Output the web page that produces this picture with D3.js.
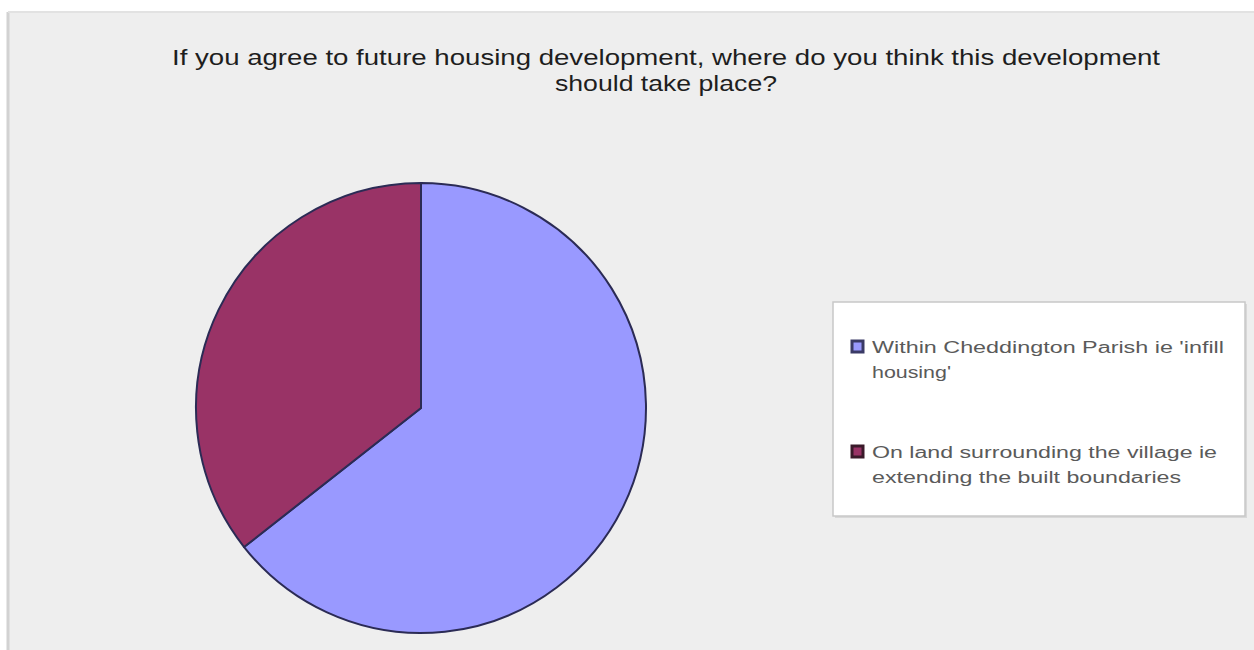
<!DOCTYPE html>
<html>
<head>
<meta charset="utf-8">
<script src="https://cdn.jsdelivr.net/npm/d3@7"></script>
<style>
  html, body { margin: 0; padding: 0; background: #ffffff; }
  svg { display: block; }
</style>
</head>
<body>
<svg id="chart" width="1254" height="650"></svg>
<script>
// Survey responses (share of respondents, %)
const categories = [
  "Within Cheddington Parish ie 'infill housing'",
  "On land surrounding the village ie extending the built boundaries"
];
const values = [64.4, 35.6];
// Legend text broken into lines as drawn
const legendLines = [
  ["Within Cheddington Parish ie 'infill", "housing'"],
  ["On land surrounding the village ie", "extending the built boundaries"]
];
const titleLines = [
  "If you agree to future housing development, where do you think this development",
  "should take place?"
];
const colors = ["#9999ff", "#993366"];

const svg = d3.select("#chart");
const W = 1254, H = 650;

// chart area
svg.append("rect").attr("x", 0).attr("y", 0).attr("width", W).attr("height", H).attr("fill", "#ffffff");
svg.append("rect").attr("x", 8).attr("y", 12).attr("width", W - 8).attr("height", H - 12)
  .attr("fill", "#eeeeee");
svg.append("line").attr("x1", 8).attr("x2", 8).attr("y1", 12).attr("y2", H)
  .attr("stroke", "#d2d2d2").attr("stroke-width", 3);
svg.append("line").attr("x1", 8).attr("x2", W).attr("y1", 12).attr("y2", 12)
  .attr("stroke", "#e2e2e2").attr("stroke-width", 2);

// title
const title = svg.append("g").attr("font-family", "Liberation Sans, Arial, sans-serif")
  .attr("fill", "#1e1e1e").attr("text-anchor", "middle");
const titleWidths = [988, 222];
titleLines.forEach((t, i) => {
  title.append("text")
    .attr("x", 666).attr("y", 65 + i * 26)
    .attr("font-size", 22)
    .attr("textLength", titleWidths[i])
    .attr("lengthAdjust", "spacingAndGlyphs")
    .text(t);
});

// pie
const cx = 421, cy = 408, r = 225;
const pie = d3.pie().sort(null).value(d => d)(values);
const arc = d3.arc().innerRadius(0).outerRadius(r);
const color = d3.scaleOrdinal().domain(d3.range(values.length)).range(colors);

const pg = svg.append("g").attr("transform", `translate(${cx},${cy})`);
pg.selectAll("path").data(pie).join("path")
  .attr("d", arc)
  .attr("fill", (d, i) => color(i))
  .attr("stroke", "#2b2b55")
  .attr("stroke-width", 2)
  .attr("stroke-linejoin", "round");

// legend
const lx = 833, ly = 302, lw = 412, lh = 214;
svg.append("rect").attr("x", lx + 2).attr("y", ly + 2).attr("width", lw).attr("height", lh)
  .attr("fill", "#d8d8d8");
svg.append("rect").attr("x", lx).attr("y", ly).attr("width", lw).attr("height", lh)
  .attr("fill", "#ffffff").attr("stroke", "#c8c8c8").attr("stroke-width", 1.5);

const lineW = [[352, 79], [345, 309]];
const lg = svg.append("g").attr("font-family", "Liberation Sans, Arial, sans-serif")
  .attr("fill", "#5a5a5a");
const rowY = [347, 452];
categories.forEach((c, i) => {
  lg.append("rect")
    .attr("x", 852).attr("y", rowY[i] - 6).attr("width", 11).attr("height", 11)
    .attr("fill", color(i)).attr("stroke", i === 0 ? "#3a3a66" : "#3a1a2a").attr("stroke-width", 3);
  legendLines[i].forEach((t, j) => {
    lg.append("text")
      .attr("x", 872).attr("y", rowY[i] + 6 + j * 25)
      .attr("font-size", 16)
      .attr("textLength", lineW[i][j])
      .attr("lengthAdjust", "spacingAndGlyphs")
      .text(t);
  });
});
</script>
</body>
</html>
